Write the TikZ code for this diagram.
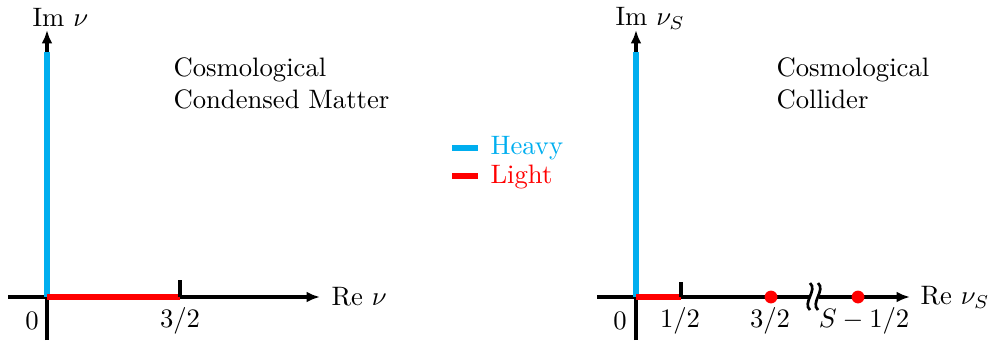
\documentclass[tikz,border=0pt]{standalone}
\usetikzlibrary{arrows.meta}
\definecolor{heavyc}{RGB}{0,174,239}
\definecolor{lightc}{RGB}{255,0,0}
\begin{document}
\begin{tikzpicture}[x=0.375pt,y=-0.375pt,
  axis/.style={line width=1.3pt,black},
  axisarrow/.style={axis,-{Latex[length=5pt,width=4pt]}},
  heavyline/.style={line width=2pt,heavyc},
  lightline/.style={line width=2pt,lightc},
  tickmark/.style={line width=1.3pt},
  lbl/.style={inner sep=0pt,anchor=center},
  dot/.style={circle,fill=lightc,inner sep=0pt,minimum size=4.8pt},
  brk/.style={line width=1pt}]
\useasboundingbox (0,0) rectangle (992,344);
% ---------- left panel ----------
\coordinate (L0) at (47,297);
\coordinate (Lbot) at (47,340);
\coordinate (Ltop) at (47,30);
\coordinate (Lleft) at (8,297);
\coordinate (Lright) at (320,297);
\coordinate (Lh) at (47,52);
\coordinate (L32) at (180,297);
\coordinate (L32t) at (180,280);
\draw[axisarrow] (Lbot) -- (Ltop);
\draw[axisarrow] (Lleft) -- (Lright);
\draw[heavyline] (Lh) -- (L0);
\draw[lightline] (L0) -- (L32);
\draw[tickmark] (L32) -- (L32t);
\node[lbl,anchor=west] (LIm) at (32,17) {Im $\nu$};
\node[lbl,anchor=west] (LRe) at (331,297) {Re $\nu$};
\node[lbl] (Lzero) at (32,321) {$0$};
\node[lbl] (Lthree) at (180,321) {$3/2$};
\node[lbl,anchor=west,align=left] (Ltext) at (173,83) {Cosmological\\Condensed Matter};
% ---------- legend ----------
\coordinate (HA) at (452,148);
\coordinate (HB) at (478,148);
\coordinate (RA) at (452,176);
\coordinate (RB) at (478,176);
\draw[heavyline] (HA) -- (HB);
\draw[lightline] (RA) -- (RB);
\node[lbl,anchor=west,text=heavyc] (heavy) at (490,148) {Heavy};
\node[lbl,anchor=west,text=lightc] (light) at (490,177) {Light};
% ---------- right panel ----------
\coordinate (R0) at (636,297);
\coordinate (Rbot) at (636,340);
\coordinate (Rtop) at (636,30);
\coordinate (Rleft) at (597,297);
\coordinate (Rb1) at (809,297);
\coordinate (Rb2) at (819,297);
\coordinate (Rright) at (910,297);
\coordinate (Rh) at (636,52);
\coordinate (Rhalf) at (681,297);
\coordinate (Rhalft) at (681,282);
\draw[axisarrow] (Rbot) -- (Rtop);
\draw[axis] (Rleft) -- (Rb1);
\draw[axisarrow] (Rb2) -- (Rright);
\draw[heavyline] (Rh) -- (R0);
\draw[lightline] (R0) -- (Rhalf);
\draw[tickmark] (Rhalf) -- (Rhalft);
\draw[brk] (810,283) .. controls (818,290) and (802,303) .. (810,310);
\draw[brk] (818,283) .. controls (826,290) and (810,303) .. (818,310);
\node[dot] (d1) at (771,297) {};
\node[dot] (d2) at (858,297) {};
\node[lbl,anchor=west] (RIm) at (615,18) {Im $\nu_S$};
\node[lbl,anchor=west] (RRe) at (920,297) {Re $\nu_S$};
\node[lbl] (Rzero) at (620,321) {$0$};
\node[lbl] (Rhl) at (680,321) {$1/2$};
\node[lbl] (Rth) at (770,321) {$3/2$};
\node[lbl] (RS) at (864,321) {$S-1/2$};
\node[lbl,anchor=west,align=left] (Rtext) at (776,83) {Cosmological\\Collider};
\end{tikzpicture}
\end{document}
